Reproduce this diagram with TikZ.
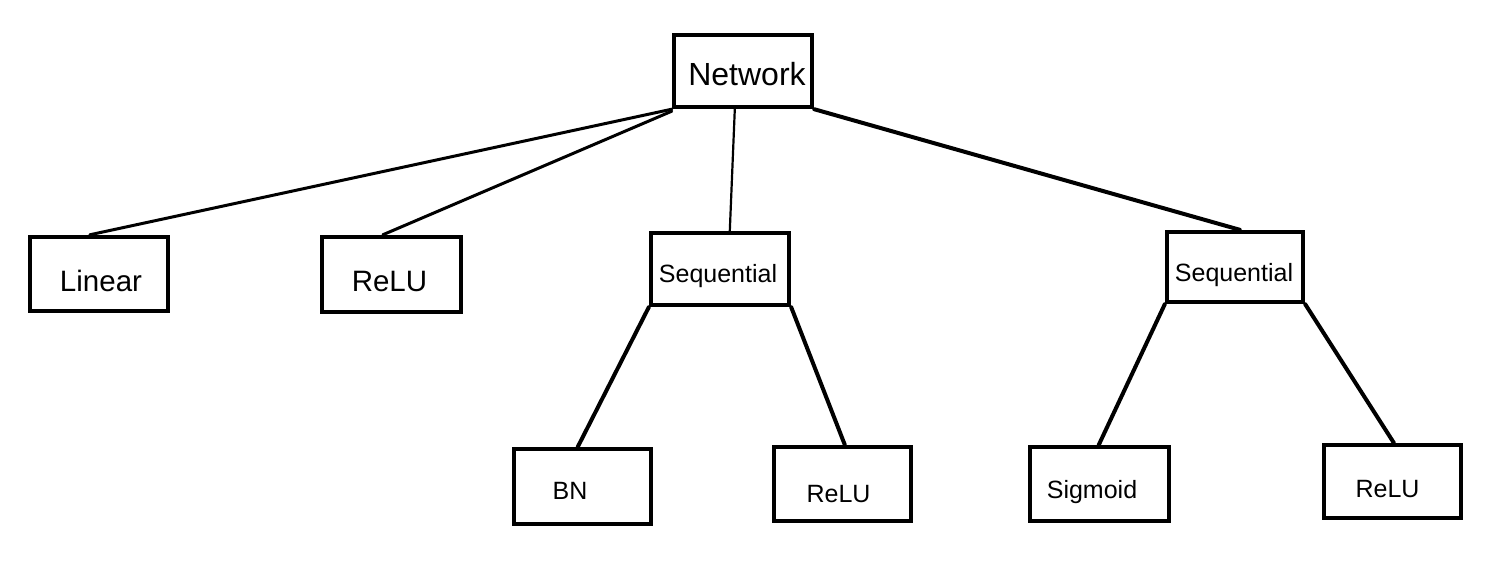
\documentclass[tikz,border=0pt]{standalone}
\usepackage{fontspec}
\setmainfont{Liberation Sans}
\usetikzlibrary{calc}
\newcommand\mytxt[3]{\hspace*{#1}\raisebox{#2}[0pt][0pt]{#3}}
\begin{document}
\begin{tikzpicture}[x=1pt,y=1pt,
  box/.style={draw=black, line width=4.4pt, inner sep=0pt, fill=white, text=black},
  conn/.style={draw=black, line width=3pt, line cap=round},
  big/.style={font=\fontsize{32}{36}\selectfont},
  mid/.style={font=\fontsize{29.5}{34}\selectfont},
  sml/.style={font=\fontsize{25}{30}\selectfont}]
\useasboundingbox (0,0) rectangle (1497,-581);
\node[box, big, minimum width=138pt, minimum height=72pt] (net) at (743,-71) {\mytxt{8pt}{-14pt}{Network}};
\node[box, mid, minimum width=138pt, minimum height=74pt] (lin) at (99,-274) {\mytxt{4pt}{-17pt}{Linear}};
\node[box, mid, minimum width=139pt, minimum height=75pt] (relua) at (391.5,-274.5) {\mytxt{-4pt}{-16.5pt}{ReLU}};
\node[box, sml, minimum width=138pt, minimum height=72pt] (seqa) at (720,-269) {\mytxt{-4pt}{-13pt}{Sequential}};
\node[box, sml, minimum width=136pt, minimum height=70pt] (seqb) at (1235,-267) {\mytxt{-2pt}{-14pt}{Sequential}};
\node[box, sml, minimum width=137pt, minimum height=75pt] (bn) at (582.5,-486.5) {\mytxt{-25pt}{-12.5pt}{BN}};
\node[box, sml, minimum width=137pt, minimum height=74pt] (relub) at (842.5,-484) {\mytxt{-8pt}{-18pt}{ReLU}};
\node[box, sml, minimum width=139pt, minimum height=74pt] (sig) at (1099.5,-484) {\mytxt{-15pt}{-14pt}{Sigmoid}};
\node[box, sml, minimum width=137pt, minimum height=73pt] (reluc) at (1392.5,-481.5) {\mytxt{-10pt}{-15.5pt}{ReLU}};
\draw[conn, line width=3pt] (net.south west) -- ([xshift=62pt]lin.north west);
\draw[conn, line width=3pt] ([yshift=-2pt]net.south west) -- ([xshift=63pt]relua.north west);
\draw[conn, line width=2.2pt] ([xshift=63pt]net.south west) -- ([xshift=81pt]seqa.north west);
\draw[conn, line width=4pt] (net.south east) -- ([xshift=75pt]seqb.north west);
\draw[conn, line width=4pt] (seqa.south west) -- ([xshift=66pt]bn.north west);
\draw[conn, line width=4pt] (seqa.south east) -- ([xshift=73pt]relub.north west);
\draw[conn, line width=4pt] (seqb.south west) -- ([xshift=71pt]sig.north west);
\draw[conn, line width=4pt] (seqb.south east) -- ([xshift=72pt]reluc.north west);
\end{tikzpicture}
\end{document}
